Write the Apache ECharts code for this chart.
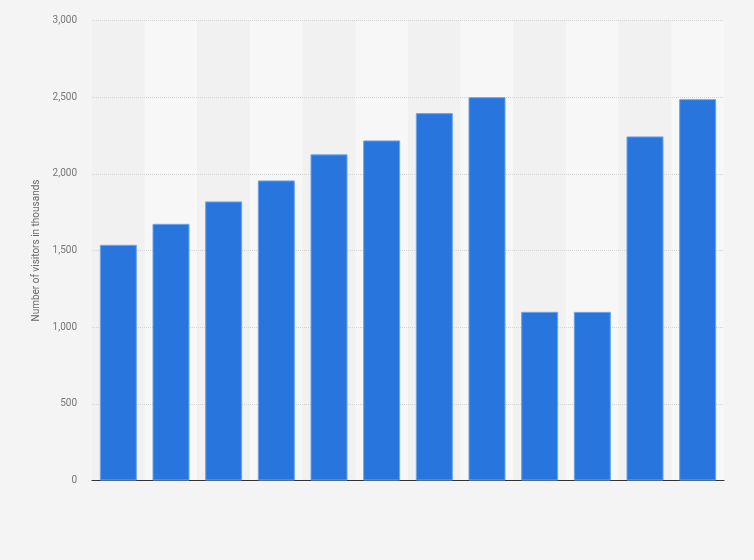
<!DOCTYPE html>
<html>
<head>
<meta charset="utf-8">
<style>
  html, body { margin: 0; padding: 0; background: #f4f4f4; }
  #chart { width: 754px; height: 560px; }
</style>
<script src="https://cdn.jsdelivr.net/npm/echarts@6/dist/echarts.min.js"></script>
</head>
<body>
<div id="chart"></div>
<script>
// years are not printed in the source picture, so the axis labels stay hidden
const years = ['2012', '2013', '2014', '2015', '2016', '2017', '2018', '2019', '2020', '2021', '2022', '2023'];
const visitors = [1537, 1674, 1820, 1957, 2127, 2218, 2396, 2500, 1100, 1100, 2244, 2487];
const yTicks = [0, 500, 1000, 1500, 2000, 2500, 3000];

const chart = echarts.init(document.getElementById('chart'));

const option = {
  backgroundColor: '#f4f4f4',
  animation: false,
  textStyle: { fontFamily: 'Roboto, sans-serif' },
  grid: { left: 92, right: 30, top: 20.5, bottom: 79.5 },
  xAxis: {
    type: 'category',
    data: years,
    z: 0,
    axisLine: { lineStyle: { color: '#333', width: 1.2 } },
    axisTick: { show: false },
    axisLabel: { show: false },
    splitArea: {
      show: true,
      areaStyle: { color: ['#f1f1f1', '#f7f7f7'] }
    }
  },
  yAxis: {
    type: 'value',
    z: 1,
    min: yTicks[0],
    max: yTicks[yTicks.length - 1],
    interval: 500,
    name: 'Number of visitors in thousands',
    nameLocation: 'middle',
    nameGap: 43,
    nameTextStyle: { color: '#666', fontSize: 10 },
    axisLine: { show: false },
    axisTick: { show: false },
    axisLabel: {
      color: '#777',
      fontSize: 10,
      margin: 15,
      formatter: (v) => v.toLocaleString('en-US')
    },
    splitLine: {
      showMinLine: false,
      lineStyle: { color: '#d4d4d4', type: [1, 1], width: 1 }
    }
  },
  series: [
    {
      type: 'bar',
      z: 2,
      data: visitors,
      barWidth: 37,
      itemStyle: {
        color: '#2876dd',
        borderColor: '#6ba4ea',
        borderWidth: 1
      }
    }
  ]
};

chart.setOption(option);

window.addEventListener('resize', function () {
  chart.resize();
});
</script>
</body>
</html>
